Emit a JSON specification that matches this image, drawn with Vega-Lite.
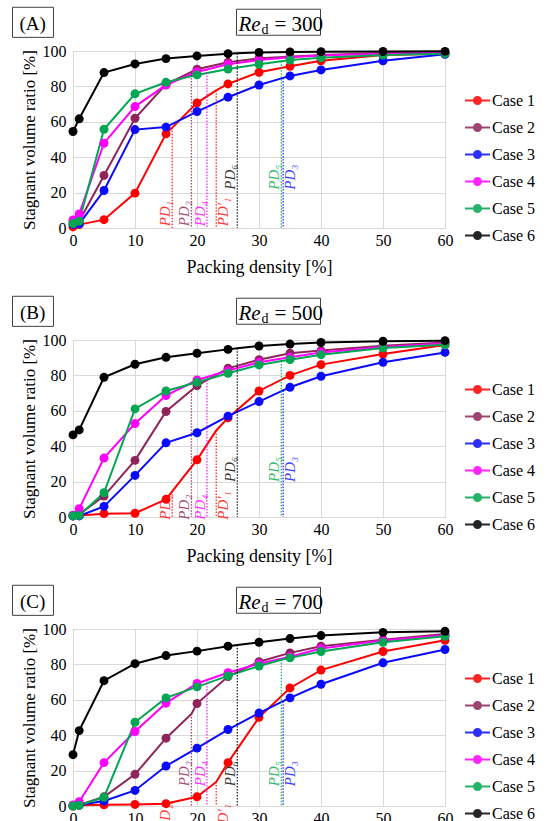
{
"$schema":"https://vega.github.io/schema/vega-lite/v6.json",
"background":"white",
"padding":{"left":11,"top":6,"right":0,"bottom":0},
"datasets":{"curves":[
{"Re":300,"case":"Case 1","x":0,"y":0.6},{"Re":300,"case":"Case 1","x":1,"y":1.9},{"Re":300,"case":"Case 1","x":5,"y":4.7},{"Re":300,"case":"Case 1","x":10,"y":19.7},{"Re":300,"case":"Case 1","x":15,"y":53.2},{"Re":300,"case":"Case 1","x":20,"y":70.7},{"Re":300,"case":"Case 1","x":25,"y":81.4},{"Re":300,"case":"Case 1","x":30,"y":88.0},{"Re":300,"case":"Case 1","x":35,"y":91.4},{"Re":300,"case":"Case 1","x":40,"y":94.5},{"Re":300,"case":"Case 1","x":50,"y":97.7},{"Re":300,"case":"Case 1","x":60,"y":98.5},
{"Re":300,"case":"Case 2","x":0,"y":3.5},{"Re":300,"case":"Case 2","x":1,"y":3.8},{"Re":300,"case":"Case 2","x":5,"y":29.7},{"Re":300,"case":"Case 2","x":10,"y":62.0},{"Re":300,"case":"Case 2","x":15,"y":81.2},{"Re":300,"case":"Case 2","x":20,"y":89.7},{"Re":300,"case":"Case 2","x":25,"y":93.6},{"Re":300,"case":"Case 2","x":30,"y":95.9},{"Re":300,"case":"Case 2","x":35,"y":96.8},{"Re":300,"case":"Case 2","x":40,"y":97.8},{"Re":300,"case":"Case 2","x":50,"y":98.8},{"Re":300,"case":"Case 2","x":60,"y":99.2},
{"Re":300,"case":"Case 3","x":0,"y":2.0},{"Re":300,"case":"Case 3","x":1,"y":2.3},{"Re":300,"case":"Case 3","x":5,"y":21.2},{"Re":300,"case":"Case 3","x":10,"y":55.6},{"Re":300,"case":"Case 3","x":15,"y":57.0},{"Re":300,"case":"Case 3","x":20,"y":65.8},{"Re":300,"case":"Case 3","x":25,"y":73.9},{"Re":300,"case":"Case 3","x":30,"y":80.8},{"Re":300,"case":"Case 3","x":35,"y":85.9},{"Re":300,"case":"Case 3","x":40,"y":89.3},{"Re":300,"case":"Case 3","x":50,"y":94.5},{"Re":300,"case":"Case 3","x":60,"y":98.1},
{"Re":300,"case":"Case 4","x":0,"y":4.5},{"Re":300,"case":"Case 4","x":1,"y":7.9},{"Re":300,"case":"Case 4","x":5,"y":47.9},{"Re":300,"case":"Case 4","x":10,"y":68.6},{"Re":300,"case":"Case 4","x":15,"y":80.8},{"Re":300,"case":"Case 4","x":20,"y":88.3},{"Re":300,"case":"Case 4","x":25,"y":92.5},{"Re":300,"case":"Case 4","x":30,"y":94.9},{"Re":300,"case":"Case 4","x":35,"y":96.5},{"Re":300,"case":"Case 4","x":40,"y":97.5},{"Re":300,"case":"Case 4","x":50,"y":98.5},{"Re":300,"case":"Case 4","x":60,"y":99.0},
{"Re":300,"case":"Case 5","x":0,"y":2.5},{"Re":300,"case":"Case 5","x":1,"y":3.8},{"Re":300,"case":"Case 5","x":5,"y":55.8},{"Re":300,"case":"Case 5","x":10,"y":75.8},{"Re":300,"case":"Case 5","x":15,"y":82.3},{"Re":300,"case":"Case 5","x":20,"y":86.5},{"Re":300,"case":"Case 5","x":25,"y":89.8},{"Re":300,"case":"Case 5","x":30,"y":92.5},{"Re":300,"case":"Case 5","x":35,"y":94.9},{"Re":300,"case":"Case 5","x":40,"y":96.2},{"Re":300,"case":"Case 5","x":50,"y":97.7},{"Re":300,"case":"Case 5","x":60,"y":98.5},
{"Re":300,"case":"Case 6","x":0,"y":54.5},{"Re":300,"case":"Case 6","x":1,"y":61.7},{"Re":300,"case":"Case 6","x":5,"y":87.8},{"Re":300,"case":"Case 6","x":10,"y":92.7},{"Re":300,"case":"Case 6","x":15,"y":95.7},{"Re":300,"case":"Case 6","x":20,"y":97.2},{"Re":300,"case":"Case 6","x":25,"y":98.5},{"Re":300,"case":"Case 6","x":30,"y":99.2},{"Re":300,"case":"Case 6","x":35,"y":99.5},{"Re":300,"case":"Case 6","x":40,"y":99.6},{"Re":300,"case":"Case 6","x":50,"y":99.7},{"Re":300,"case":"Case 6","x":60,"y":99.8},
{"Re":300,"case":"Case 1","x":16.0,"y":56.7,"pd":"PD₁","tier":"low"},{"Re":300,"case":"Case 2","x":19.1,"y":88.2,"pd":"PD₂","tier":"low"},{"Re":300,"case":"Case 4","x":21.6,"y":89.6,"pd":"PD₄","tier":"low"},{"Re":300,"case":"Case 1","x":23.1,"y":77.8,"pd":"PD′₁","tier":"low"},{"Re":300,"case":"Case 6","x":26.5,"y":98.7,"pd":"PD₆","tier":"high"},{"Re":300,"case":"Case 5","x":33.6,"y":94.2,"pd":"PD₅","tier":"high"},{"Re":300,"case":"Case 3","x":33.9,"y":84.8,"pd":"PD₃","tier":"high"},
{"Re":500,"case":"Case 1","x":0,"y":0.6},{"Re":500,"case":"Case 1","x":1,"y":0.9},{"Re":500,"case":"Case 1","x":5,"y":1.9},{"Re":500,"case":"Case 1","x":10,"y":2.1},{"Re":500,"case":"Case 1","x":15,"y":10.0},{"Re":500,"case":"Case 1","x":20,"y":32.3},{"Re":500,"case":"Case 1","x":25,"y":56.0},{"Re":500,"case":"Case 1","x":30,"y":71.2},{"Re":500,"case":"Case 1","x":35,"y":80.0},{"Re":500,"case":"Case 1","x":40,"y":86.1},{"Re":500,"case":"Case 1","x":50,"y":92.1},{"Re":500,"case":"Case 1","x":60,"y":97.2},
{"Re":500,"case":"Case 2","x":0,"y":1.0},{"Re":500,"case":"Case 2","x":1,"y":1.5},{"Re":500,"case":"Case 2","x":5,"y":11.8},{"Re":500,"case":"Case 2","x":10,"y":32.0},{"Re":500,"case":"Case 2","x":15,"y":59.6},{"Re":500,"case":"Case 2","x":20,"y":74.2},{"Re":500,"case":"Case 2","x":25,"y":84.0},{"Re":500,"case":"Case 2","x":30,"y":88.9},{"Re":500,"case":"Case 2","x":35,"y":92.5},{"Re":500,"case":"Case 2","x":40,"y":94.0},{"Re":500,"case":"Case 2","x":50,"y":96.8},{"Re":500,"case":"Case 2","x":60,"y":98.6},
{"Re":500,"case":"Case 3","x":0,"y":0.6},{"Re":500,"case":"Case 3","x":1,"y":0.6},{"Re":500,"case":"Case 3","x":5,"y":6.0},{"Re":500,"case":"Case 3","x":10,"y":23.5},{"Re":500,"case":"Case 3","x":15,"y":41.9},{"Re":500,"case":"Case 3","x":20,"y":47.6},{"Re":500,"case":"Case 3","x":25,"y":57.0},{"Re":500,"case":"Case 3","x":30,"y":65.2},{"Re":500,"case":"Case 3","x":35,"y":73.3},{"Re":500,"case":"Case 3","x":40,"y":79.5},{"Re":500,"case":"Case 3","x":50,"y":87.4},{"Re":500,"case":"Case 3","x":60,"y":93.0},
{"Re":500,"case":"Case 4","x":0,"y":0.9},{"Re":500,"case":"Case 4","x":1,"y":4.7},{"Re":500,"case":"Case 4","x":5,"y":33.3},{"Re":500,"case":"Case 4","x":10,"y":52.8},{"Re":500,"case":"Case 4","x":15,"y":68.6},{"Re":500,"case":"Case 4","x":20,"y":77.4},{"Re":500,"case":"Case 4","x":25,"y":82.7},{"Re":500,"case":"Case 4","x":30,"y":87.4},{"Re":500,"case":"Case 4","x":35,"y":90.2},{"Re":500,"case":"Case 4","x":40,"y":93.0},{"Re":500,"case":"Case 4","x":50,"y":96.0},{"Re":500,"case":"Case 4","x":60,"y":98.0},
{"Re":500,"case":"Case 5","x":0,"y":0.6},{"Re":500,"case":"Case 5","x":1,"y":0.9},{"Re":500,"case":"Case 5","x":5,"y":13.7},{"Re":500,"case":"Case 5","x":10,"y":61.1},{"Re":500,"case":"Case 5","x":15,"y":71.2},{"Re":500,"case":"Case 5","x":20,"y":76.1},{"Re":500,"case":"Case 5","x":25,"y":81.2},{"Re":500,"case":"Case 5","x":30,"y":85.9},{"Re":500,"case":"Case 5","x":35,"y":88.9},{"Re":500,"case":"Case 5","x":40,"y":91.7},{"Re":500,"case":"Case 5","x":50,"y":95.5},{"Re":500,"case":"Case 5","x":60,"y":97.3},
{"Re":500,"case":"Case 6","x":0,"y":46.4},{"Re":500,"case":"Case 6","x":1,"y":49.2},{"Re":500,"case":"Case 6","x":5,"y":78.9},{"Re":500,"case":"Case 6","x":10,"y":86.3},{"Re":500,"case":"Case 6","x":15,"y":90.2},{"Re":500,"case":"Case 6","x":20,"y":92.5},{"Re":500,"case":"Case 6","x":25,"y":94.7},{"Re":500,"case":"Case 6","x":30,"y":96.6},{"Re":500,"case":"Case 6","x":35,"y":97.7},{"Re":500,"case":"Case 6","x":40,"y":98.6},{"Re":500,"case":"Case 6","x":50,"y":99.3},{"Re":500,"case":"Case 6","x":60,"y":99.6},
{"Re":500,"case":"Case 1","x":16.0,"y":14.5,"pd":"PD₁","tier":"low"},{"Re":500,"case":"Case 2","x":19.1,"y":71.6,"pd":"PD₂","tier":"low"},{"Re":500,"case":"Case 4","x":21.6,"y":79.1,"pd":"PD₄","tier":"low"},{"Re":500,"case":"Case 1","x":23.1,"y":48.9,"pd":"PD′₁","tier":"low"},{"Re":500,"case":"Case 6","x":26.5,"y":95.3,"pd":"PD₆","tier":"high"},{"Re":500,"case":"Case 5","x":33.6,"y":88.1,"pd":"PD₅","tier":"high"},{"Re":500,"case":"Case 3","x":33.9,"y":71.5,"pd":"PD₃","tier":"high"},
{"Re":700,"case":"Case 1","x":0,"y":0.0},{"Re":700,"case":"Case 1","x":1,"y":0.4},{"Re":700,"case":"Case 1","x":5,"y":0.7},{"Re":700,"case":"Case 1","x":10,"y":0.9},{"Re":700,"case":"Case 1","x":15,"y":1.3},{"Re":700,"case":"Case 1","x":20,"y":5.2},{"Re":700,"case":"Case 1","x":25,"y":24.5},{"Re":700,"case":"Case 1","x":30,"y":50.1},{"Re":700,"case":"Case 1","x":35,"y":66.7},{"Re":700,"case":"Case 1","x":40,"y":76.8},{"Re":700,"case":"Case 1","x":50,"y":87.3},{"Re":700,"case":"Case 1","x":60,"y":93.6},
{"Re":700,"case":"Case 2","x":0,"y":0.3},{"Re":700,"case":"Case 2","x":1,"y":0.6},{"Re":700,"case":"Case 2","x":5,"y":5.2},{"Re":700,"case":"Case 2","x":10,"y":17.9},{"Re":700,"case":"Case 2","x":15,"y":38.3},{"Re":700,"case":"Case 2","x":20,"y":57.9},{"Re":700,"case":"Case 2","x":25,"y":73.1},{"Re":700,"case":"Case 2","x":30,"y":81.5},{"Re":700,"case":"Case 2","x":35,"y":86.5},{"Re":700,"case":"Case 2","x":40,"y":90.3},{"Re":700,"case":"Case 2","x":50,"y":94.0},{"Re":700,"case":"Case 2","x":60,"y":97.2},
{"Re":700,"case":"Case 3","x":0,"y":0.2},{"Re":700,"case":"Case 3","x":1,"y":0.6},{"Re":700,"case":"Case 3","x":5,"y":2.8},{"Re":700,"case":"Case 3","x":10,"y":8.8},{"Re":700,"case":"Case 3","x":15,"y":22.6},{"Re":700,"case":"Case 3","x":20,"y":32.7},{"Re":700,"case":"Case 3","x":25,"y":43.2},{"Re":700,"case":"Case 3","x":30,"y":52.5},{"Re":700,"case":"Case 3","x":35,"y":61.1},{"Re":700,"case":"Case 3","x":40,"y":68.8},{"Re":700,"case":"Case 3","x":50,"y":80.9},{"Re":700,"case":"Case 3","x":60,"y":88.4},
{"Re":700,"case":"Case 4","x":0,"y":0.6},{"Re":700,"case":"Case 4","x":1,"y":2.4},{"Re":700,"case":"Case 4","x":5,"y":24.5},{"Re":700,"case":"Case 4","x":10,"y":42.1},{"Re":700,"case":"Case 4","x":15,"y":58.1},{"Re":700,"case":"Case 4","x":20,"y":69.2},{"Re":700,"case":"Case 4","x":25,"y":75.3},{"Re":700,"case":"Case 4","x":30,"y":80.4},{"Re":700,"case":"Case 4","x":35,"y":84.3},{"Re":700,"case":"Case 4","x":40,"y":89.0},{"Re":700,"case":"Case 4","x":50,"y":93.5},{"Re":700,"case":"Case 4","x":60,"y":96.5},
{"Re":700,"case":"Case 5","x":0,"y":0.0},{"Re":700,"case":"Case 5","x":1,"y":0.4},{"Re":700,"case":"Case 5","x":5,"y":4.9},{"Re":700,"case":"Case 5","x":10,"y":47.3},{"Re":700,"case":"Case 5","x":15,"y":61.1},{"Re":700,"case":"Case 5","x":20,"y":67.3},{"Re":700,"case":"Case 5","x":25,"y":73.5},{"Re":700,"case":"Case 5","x":30,"y":79.1},{"Re":700,"case":"Case 5","x":35,"y":83.7},{"Re":700,"case":"Case 5","x":40,"y":87.3},{"Re":700,"case":"Case 5","x":50,"y":92.5},{"Re":700,"case":"Case 5","x":60,"y":95.9},
{"Re":700,"case":"Case 6","x":0,"y":29.0},{"Re":700,"case":"Case 6","x":1,"y":42.6},{"Re":700,"case":"Case 6","x":5,"y":70.8},{"Re":700,"case":"Case 6","x":10,"y":80.4},{"Re":700,"case":"Case 6","x":15,"y":85.0},{"Re":700,"case":"Case 6","x":20,"y":87.5},{"Re":700,"case":"Case 6","x":25,"y":90.3},{"Re":700,"case":"Case 6","x":30,"y":92.5},{"Re":700,"case":"Case 6","x":35,"y":94.6},{"Re":700,"case":"Case 6","x":40,"y":96.3},{"Re":700,"case":"Case 6","x":50,"y":98.1},{"Re":700,"case":"Case 6","x":60,"y":98.7},
{"Re":700,"case":"Case 1","x":16.0,"y":2.1,"pd":"PD₁","tier":"low"},{"Re":700,"case":"Case 2","x":19.1,"y":52.0,"pd":"PD₂","tier":"high"},{"Re":700,"case":"Case 4","x":21.6,"y":71.2,"pd":"PD₄","tier":"high"},{"Re":700,"case":"Case 1","x":23.1,"y":13.6,"pd":"PD′₁","tier":"low"},{"Re":700,"case":"Case 6","x":26.5,"y":91.0,"pd":"PD₆","tier":"high"},{"Re":700,"case":"Case 5","x":33.6,"y":82.6,"pd":"PD₅","tier":"high"},{"Re":700,"case":"Case 3","x":33.9,"y":59.2,"pd":"PD₃","tier":"high"}
]},
"vconcat":[
{"width":372,"height":177,"data":{"name":"curves"},"transform":[{"filter":"datum.Re == 300"}],
"layer":[
{"mark":{"type":"line","strokeWidth":2},"encoding":{"x":{"field":"x","type":"quantitative","scale":{"domain":[0,60],"nice":false},"axis":{"values":[0,10,20,30,40,50,60],"labelPadding":4,"titlePadding":10,"titleFontSize":18},"title":"Packing density [%]"},"y":{"field":"y","type":"quantitative","scale":{"domain":[0,100],"nice":false},"axis":{"values":[0,20,40,60,80,100],"tickCount":6,"labelOverlap":false,"labelSeparation":-40,"labelBound":false,"labelPadding":7,"titlePadding":4},"title":"Stagnant volume ratio [%]"},"color":{"field":"case","type":"nominal"}}},
{"transform":[{"filter":"datum.pd"}],"mark":{"type":"rule","strokeDash":[1.5,1.5],"strokeWidth":1.3,"opacity":0.85},"encoding":{"x":{"field":"x","type":"quantitative"},"y":{"field":"y","type":"quantitative"},"y2":{"datum":0},"color":{"field":"case","type":"nominal"}}},
{"transform":[{"filter":"datum.tier == 'low' && datum.pd != 'PD′₁' && datum.pd != 'PD₃'"}],"mark":{"type":"text","angle":270,"align":"left","baseline":"bottom","dy":1,"font":"Liberation Serif","fontStyle":"italic","fontSize":15,"opacity":0.8},"encoding":{"x":{"field":"x","type":"quantitative"},"y":{"datum":1},"text":{"field":"pd"},"color":{"field":"case","type":"nominal"}}},
{"transform":[{"filter":"datum.tier == 'low' && (datum.pd == 'PD′₁' || datum.pd == 'PD₃')"}],"mark":{"type":"text","angle":270,"align":"left","baseline":"top","dy":0,"font":"Liberation Serif","fontStyle":"italic","fontSize":15,"opacity":0.8},"encoding":{"x":{"field":"x","type":"quantitative"},"y":{"datum":1},"text":{"field":"pd"},"color":{"field":"case","type":"nominal"}}},
{"transform":[{"filter":"datum.tier == 'high' && datum.pd != 'PD′₁' && datum.pd != 'PD₃'"}],"mark":{"type":"text","angle":270,"align":"left","baseline":"bottom","dy":1,"font":"Liberation Serif","fontStyle":"italic","fontSize":15,"opacity":0.8},"encoding":{"x":{"field":"x","type":"quantitative"},"y":{"datum":21.6},"text":{"field":"pd"},"color":{"field":"case","type":"nominal"}}},
{"transform":[{"filter":"datum.tier == 'high' && (datum.pd == 'PD′₁' || datum.pd == 'PD₃')"}],"mark":{"type":"text","angle":270,"align":"left","baseline":"top","dy":0,"font":"Liberation Serif","fontStyle":"italic","fontSize":15,"opacity":0.8},"encoding":{"x":{"field":"x","type":"quantitative"},"y":{"datum":21.6},"text":{"field":"pd"},"color":{"field":"case","type":"nominal"}}},
{"transform":[{"filter":"!datum.pd"}],"mark":{"type":"point","filled":true,"size":80,"opacity":1},"encoding":{"x":{"field":"x","type":"quantitative"},"y":{"field":"y","type":"quantitative"},"color":{"field":"case","type":"nominal","scale":{"domain":["Case 1","Case 2","Case 3","Case 4","Case 5","Case 6"],"range":["#ff0000","#8e2459","#0a0aff","#ff00ff","#00a651","#000000"]},"legend":{"title":null,"orient":"none","legendX":391,"legendY":36,"symbolType":"M-1,0L1,0M-0.28,0A0.28,0.28,0,1,0,0.28,0A0.28,0.28,0,1,0,-0.28,0Z","symbolSize":625,"symbolStrokeWidth":2,"labelOffset":1,"rowPadding":5,"padding":0,"encode":{"symbols":{"update":{"stroke":{"scale":"color","field":"value"},"fill":{"scale":"color","field":"value"}}}}}}}},
{"data":{"values":[{}]},"mark":{"type":"rect","fill":"transparent","stroke":"#404040","strokeWidth":1},"encoding":{"x":{"datum":-9.76},"x2":{"datum":-3.15},"y":{"datum":124.7},"y2":{"datum":107.7}}},
{"data":{"values":[{}]},"mark":{"type":"rect","fill":"transparent","stroke":"#404040","strokeWidth":1},"encoding":{"x":{"datum":26.37},"x2":{"datum":39.92},"y":{"datum":123.6},"y2":{"datum":108.9}}},
{"data":{"values":[{}]},"mark":{"type":"text","text":"(A)","font":"Liberation Serif","fontSize":19,"align":"center","baseline":"alphabetic","color":"#000"},"encoding":{"x":{"datum":-6.5},"y":{"datum":111.9}}},
{"data":{"values":[{}]},"mark":{"type":"text","text":"Re","font":"Liberation Serif","fontStyle":"italic","fontSize":21,"align":"left","baseline":"alphabetic","color":"#000"},"encoding":{"x":{"datum":26.69},"y":{"datum":111.4}}},
{"data":{"values":[{}]},"mark":{"type":"text","text":"d","font":"Liberation Serif","fontSize":14,"align":"left","baseline":"alphabetic","color":"#000"},"encoding":{"x":{"datum":30.4},"y":{"datum":109.6}}},
{"data":{"values":[{}]},"mark":{"type":"text","text":"= 300","font":"Liberation Serif","fontSize":21,"align":"left","baseline":"alphabetic","color":"#000"},"encoding":{"x":{"datum":32.5},"y":{"datum":111.4}}}
]},
{"width":372,"height":177,"data":{"name":"curves"},"transform":[{"filter":"datum.Re == 500"}],
"layer":[
{"mark":{"type":"line","strokeWidth":2},"encoding":{"x":{"field":"x","type":"quantitative","scale":{"domain":[0,60],"nice":false},"axis":{"values":[0,10,20,30,40,50,60],"labelPadding":4,"titlePadding":10,"titleFontSize":18},"title":"Packing density [%]"},"y":{"field":"y","type":"quantitative","scale":{"domain":[0,100],"nice":false},"axis":{"values":[0,20,40,60,80,100],"tickCount":6,"labelOverlap":false,"labelSeparation":-40,"labelBound":false,"labelPadding":7,"titlePadding":4},"title":"Stagnant volume ratio [%]"},"color":{"field":"case","type":"nominal"}}},
{"transform":[{"filter":"datum.pd"}],"mark":{"type":"rule","strokeDash":[1.5,1.5],"strokeWidth":1.3,"opacity":0.85},"encoding":{"x":{"field":"x","type":"quantitative"},"y":{"field":"y","type":"quantitative"},"y2":{"datum":0},"color":{"field":"case","type":"nominal"}}},
{"transform":[{"filter":"datum.tier == 'low' && datum.pd != 'PD′₁' && datum.pd != 'PD₃'"}],"mark":{"type":"text","angle":270,"align":"left","baseline":"bottom","dy":1,"font":"Liberation Serif","fontStyle":"italic","fontSize":15,"opacity":0.8},"encoding":{"x":{"field":"x","type":"quantitative"},"y":{"datum":-1.5},"text":{"field":"pd"},"color":{"field":"case","type":"nominal"}}},
{"transform":[{"filter":"datum.tier == 'low' && (datum.pd == 'PD′₁' || datum.pd == 'PD₃')"}],"mark":{"type":"text","angle":270,"align":"left","baseline":"top","dy":0,"font":"Liberation Serif","fontStyle":"italic","fontSize":15,"opacity":0.8},"encoding":{"x":{"field":"x","type":"quantitative"},"y":{"datum":-1.5},"text":{"field":"pd"},"color":{"field":"case","type":"nominal"}}},
{"transform":[{"filter":"datum.tier == 'high' && datum.pd != 'PD′₁' && datum.pd != 'PD₃'"}],"mark":{"type":"text","angle":270,"align":"left","baseline":"bottom","dy":1,"font":"Liberation Serif","fontStyle":"italic","fontSize":15,"opacity":0.8},"encoding":{"x":{"field":"x","type":"quantitative"},"y":{"datum":19.8},"text":{"field":"pd"},"color":{"field":"case","type":"nominal"}}},
{"transform":[{"filter":"datum.tier == 'high' && (datum.pd == 'PD′₁' || datum.pd == 'PD₃')"}],"mark":{"type":"text","angle":270,"align":"left","baseline":"top","dy":0,"font":"Liberation Serif","fontStyle":"italic","fontSize":15,"opacity":0.8},"encoding":{"x":{"field":"x","type":"quantitative"},"y":{"datum":19.8},"text":{"field":"pd"},"color":{"field":"case","type":"nominal"}}},
{"transform":[{"filter":"!datum.pd"}],"mark":{"type":"point","filled":true,"size":80,"opacity":1},"encoding":{"x":{"field":"x","type":"quantitative"},"y":{"field":"y","type":"quantitative"},"color":{"field":"case","type":"nominal","scale":{"domain":["Case 1","Case 2","Case 3","Case 4","Case 5","Case 6"],"range":["#ff0000","#8e2459","#0a0aff","#ff00ff","#00a651","#000000"]},"legend":{"title":null,"orient":"none","legendX":391,"legendY":36,"symbolType":"M-1,0L1,0M-0.28,0A0.28,0.28,0,1,0,0.28,0A0.28,0.28,0,1,0,-0.28,0Z","symbolSize":625,"symbolStrokeWidth":2,"labelOffset":1,"rowPadding":5,"padding":0,"encode":{"symbols":{"update":{"stroke":{"scale":"color","field":"value"},"fill":{"scale":"color","field":"value"}}}}}}}},
{"data":{"values":[{}]},"mark":{"type":"rect","fill":"transparent","stroke":"#404040","strokeWidth":1},"encoding":{"x":{"datum":-9.76},"x2":{"datum":-3.15},"y":{"datum":124.7},"y2":{"datum":107.7}}},
{"data":{"values":[{}]},"mark":{"type":"rect","fill":"transparent","stroke":"#404040","strokeWidth":1},"encoding":{"x":{"datum":26.37},"x2":{"datum":39.92},"y":{"datum":123.6},"y2":{"datum":108.9}}},
{"data":{"values":[{}]},"mark":{"type":"text","text":"(B)","font":"Liberation Serif","fontSize":19,"align":"center","baseline":"alphabetic","color":"#000"},"encoding":{"x":{"datum":-6.5},"y":{"datum":111.9}}},
{"data":{"values":[{}]},"mark":{"type":"text","text":"Re","font":"Liberation Serif","fontStyle":"italic","fontSize":21,"align":"left","baseline":"alphabetic","color":"#000"},"encoding":{"x":{"datum":26.69},"y":{"datum":111.4}}},
{"data":{"values":[{}]},"mark":{"type":"text","text":"d","font":"Liberation Serif","fontSize":14,"align":"left","baseline":"alphabetic","color":"#000"},"encoding":{"x":{"datum":30.4},"y":{"datum":109.6}}},
{"data":{"values":[{}]},"mark":{"type":"text","text":"= 500","font":"Liberation Serif","fontSize":21,"align":"left","baseline":"alphabetic","color":"#000"},"encoding":{"x":{"datum":32.5},"y":{"datum":111.4}}}
]},
{"width":372,"height":177,"data":{"name":"curves"},"transform":[{"filter":"datum.Re == 700"}],
"layer":[
{"mark":{"type":"line","strokeWidth":2},"encoding":{"x":{"field":"x","type":"quantitative","scale":{"domain":[0,60],"nice":false},"axis":{"values":[0,10,20,30,40,50,60],"labelPadding":4,"titlePadding":10,"titleFontSize":18},"title":"Packing density [%]"},"y":{"field":"y","type":"quantitative","scale":{"domain":[0,100],"nice":false},"axis":{"values":[0,20,40,60,80,100],"tickCount":6,"labelOverlap":false,"labelSeparation":-40,"labelBound":false,"labelPadding":7,"titlePadding":4},"title":"Stagnant volume ratio [%]"},"color":{"field":"case","type":"nominal"}}},
{"transform":[{"filter":"datum.pd"}],"mark":{"type":"rule","strokeDash":[1.5,1.5],"strokeWidth":1.3,"opacity":0.85},"encoding":{"x":{"field":"x","type":"quantitative"},"y":{"field":"y","type":"quantitative"},"y2":{"datum":0},"color":{"field":"case","type":"nominal"}}},
{"transform":[{"filter":"datum.tier == 'low' && datum.pd != 'PD′₁' && datum.pd != 'PD₃'"}],"mark":{"type":"text","angle":270,"align":"left","baseline":"bottom","dy":1,"font":"Liberation Serif","fontStyle":"italic","fontSize":15,"opacity":0.8},"encoding":{"x":{"field":"x","type":"quantitative"},"y":{"datum":-13.5},"text":{"field":"pd"},"color":{"field":"case","type":"nominal"}}},
{"transform":[{"filter":"datum.tier == 'low' && (datum.pd == 'PD′₁' || datum.pd == 'PD₃')"}],"mark":{"type":"text","angle":270,"align":"left","baseline":"top","dy":0,"font":"Liberation Serif","fontStyle":"italic","fontSize":15,"opacity":0.8},"encoding":{"x":{"field":"x","type":"quantitative"},"y":{"datum":-15},"text":{"field":"pd"},"color":{"field":"case","type":"nominal"}}},
{"transform":[{"filter":"datum.tier == 'high' && datum.pd != 'PD′₁' && datum.pd != 'PD₃'"}],"mark":{"type":"text","angle":270,"align":"left","baseline":"bottom","dy":1,"font":"Liberation Serif","fontStyle":"italic","fontSize":15,"opacity":0.8},"encoding":{"x":{"field":"x","type":"quantitative"},"y":{"datum":11.2},"text":{"field":"pd"},"color":{"field":"case","type":"nominal"}}},
{"transform":[{"filter":"datum.tier == 'high' && (datum.pd == 'PD′₁' || datum.pd == 'PD₃')"}],"mark":{"type":"text","angle":270,"align":"left","baseline":"top","dy":0,"font":"Liberation Serif","fontStyle":"italic","fontSize":15,"opacity":0.8},"encoding":{"x":{"field":"x","type":"quantitative"},"y":{"datum":11.2},"text":{"field":"pd"},"color":{"field":"case","type":"nominal"}}},
{"transform":[{"filter":"!datum.pd"}],"mark":{"type":"point","filled":true,"size":80,"opacity":1},"encoding":{"x":{"field":"x","type":"quantitative"},"y":{"field":"y","type":"quantitative"},"color":{"field":"case","type":"nominal","scale":{"domain":["Case 1","Case 2","Case 3","Case 4","Case 5","Case 6"],"range":["#ff0000","#8e2459","#0a0aff","#ff00ff","#00a651","#000000"]},"legend":{"title":null,"orient":"none","legendX":391,"legendY":36,"symbolType":"M-1,0L1,0M-0.28,0A0.28,0.28,0,1,0,0.28,0A0.28,0.28,0,1,0,-0.28,0Z","symbolSize":625,"symbolStrokeWidth":2,"labelOffset":1,"rowPadding":5,"padding":0,"encode":{"symbols":{"update":{"stroke":{"scale":"color","field":"value"},"fill":{"scale":"color","field":"value"}}}}}}}},
{"data":{"values":[{}]},"mark":{"type":"rect","fill":"transparent","stroke":"#404040","strokeWidth":1},"encoding":{"x":{"datum":-9.76},"x2":{"datum":-3.15},"y":{"datum":124.7},"y2":{"datum":107.7}}},
{"data":{"values":[{}]},"mark":{"type":"rect","fill":"transparent","stroke":"#404040","strokeWidth":1},"encoding":{"x":{"datum":26.37},"x2":{"datum":39.92},"y":{"datum":123.6},"y2":{"datum":108.9}}},
{"data":{"values":[{}]},"mark":{"type":"text","text":"(C)","font":"Liberation Serif","fontSize":19,"align":"center","baseline":"alphabetic","color":"#000"},"encoding":{"x":{"datum":-6.5},"y":{"datum":111.9}}},
{"data":{"values":[{}]},"mark":{"type":"text","text":"Re","font":"Liberation Serif","fontStyle":"italic","fontSize":21,"align":"left","baseline":"alphabetic","color":"#000"},"encoding":{"x":{"datum":26.69},"y":{"datum":111.4}}},
{"data":{"values":[{}]},"mark":{"type":"text","text":"d","font":"Liberation Serif","fontSize":14,"align":"left","baseline":"alphabetic","color":"#000"},"encoding":{"x":{"datum":30.4},"y":{"datum":109.6}}},
{"data":{"values":[{}]},"mark":{"type":"text","text":"= 700","font":"Liberation Serif","fontSize":21,"align":"left","baseline":"alphabetic","color":"#000"},"encoding":{"x":{"datum":32.5},"y":{"datum":111.4}}}
]}
],
"spacing":19,
"resolve":{"legend":{"color":"independent"}},
"config":{"font":"Liberation Serif","view":{"stroke":null},
"axis":{"domainColor":"#d9d9d9","gridColor":"#d9d9d9","ticks":false,"labelFont":"Liberation Serif","labelFontSize":16,"labelColor":"#000","titleFont":"Liberation Serif","titleFontSize":17,"titleFontWeight":"normal","titleColor":"#000","labelFlush":false,"labelOverlap":false},
"legend":{"labelFont":"Liberation Serif","labelFontSize":16,"labelColor":"#000"}}
}
